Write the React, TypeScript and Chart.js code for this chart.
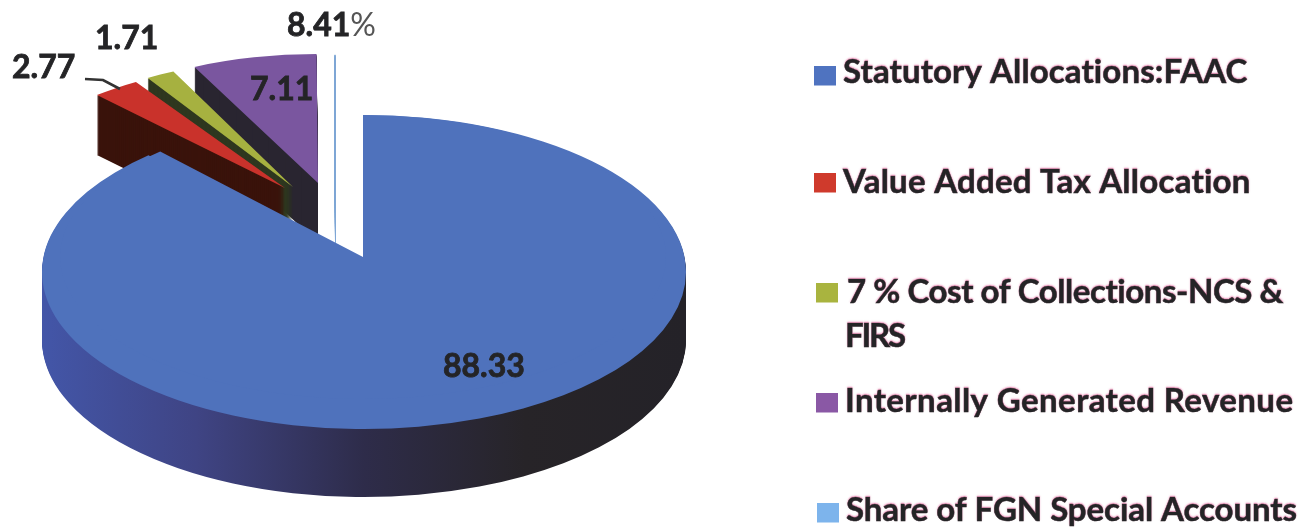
import React, { useEffect, useRef } from "react";
import { Chart, registerables } from "chart.js";

Chart.register(...registerables);

// ---- data ----
const categories = [
  "Statutory Allocations:FAAC",
  "Value Added Tax Allocation",
  "7 % Cost of Collections-NCS & FIRS",
  "Internally Generated Revenue",
  "Share of FGN Special Accounts",
];
const legendLines = [
  ["Statutory Allocations:FAAC"],
  ["Value Added Tax Allocation"],
  ["7 % Cost of Collections-NCS &", "FIRS"],
  ["Internally Generated Revenue"],
  ["Share of FGN Special Accounts"],
];
const shares = [88.33, 2.77, 1.71, 7.11, 0.08];
const valueLabels = ["88.33", "2.77", "1.71", "7.11", "8.41"];

// ---- styles ----
const topColors = ["#4f72bc", "#c9322b", "#a6b140", "#7a569f", "#7ea6d6"];
const wallColors = ["#33386e", "#3a130b", "#2e371f", "#292530", "#7ea6d6"];
const swatchColors = ["#4f73c0", "#cf3a2c", "#a9b43f", "#8a58a5", "#7db4ec"];
const blueWallStops: [number, string][] = [
  [0, "#4356a8"],
  [0.24, "#3f4484"],
  [0.5, "#2e2c4a"],
  [0.75, "#272428"],
  [1, "#242228"],
];

// Each slice is projected on its own ellipse (the look of an exploded 3-D pie).
const sliceFrames = [
  { ax: 364, ay: 272, rx: 322, ry: 157, depth: 68 },
  { ax: 285, ay: 188, rx: 281, ry: 125, depth: 60 },
  { ax: 293, ay: 187, rx: 274, ry: 128.5, depth: 60 },
  { ax: 318, ay: 183, rx: 283, ry: 129, depth: 60 },
  { ax: 335.5, ay: 185, rx: 200, ry: 130, depth: 58 },
];
// The far half of the big slice sits on a flatter ellipse: perspective.
const farFrame = { ax: 363, ay: 257, rx: 303, ry: 142 };
const paintOrder = [3, 4, 2, 1, 0];

const labelLayout = [
  { x: 443, y: 377 },
  { x: 12, y: 78 },
  { x: 95, y: 49 },
  { x: 250, y: 100 },
  { x: 287, y: 36 },
];
const legendLayout = [
  { sx: 814, sy: 66, lines: [{ x: 843, r: 1248, y: 83 }] },
  { sx: 814, sy: 173, lines: [{ x: 843, r: 1251, y: 193 }] },
  { sx: 816, sy: 283, lines: [{ x: 847, r: 1284, y: 303 }, { x: 845, r: 906, y: 347 }] },
  { sx: 816, sy: 393, lines: [{ x: 845, r: 1293, y: 412 }] },
  { sx: 817, sy: 503, lines: [{ x: 846, r: 1297, y: 521 }] },
];
const leader = [
  [85, 79],
  [103, 80],
  [120, 89],
];

const INK = "#242426";
const FONT = "Lato, 'Open Sans', sans-serif";

function paintArc(ctx: any, arc: any, frame: any, fill: any, dy: number, border = 0) {
  const R = arc.outerRadius;
  const saved = arc.options;
  arc.options = { ...saved, backgroundColor: fill, borderColor: fill, borderWidth: border };
  ctx.save();
  ctx.translate(frame.ax, frame.ay + dy);
  ctx.scale(frame.rx / R, frame.ry / R);
  ctx.translate(-arc.x, -arc.y);
  arc.draw(ctx);
  ctx.restore();
  arc.options = saved;
}

const piePainter = {
  id: "piePainter",
  beforeDatasetDraw(chart: any) {
    const ctx = chart.ctx;
    const arcs = chart.getDatasetMeta(0).data;
    for (const i of paintOrder) {
      const arc = arcs[i];
      const frame = sliceFrames[i];
      const border = i === 4 ? 1 : 0;
      let wall: any = wallColors[i];
      if (i === 0) {
        const R = arc.outerRadius;
        wall = ctx.createLinearGradient(arc.x - R, 0, arc.x + R, 0);
        blueWallStops.forEach(([p, c]) => wall.addColorStop(p, c));
      }
      for (let d = frame.depth; d >= 1; d--) paintArc(ctx, arc, frame, wall, d, border);
      paintArc(ctx, arc, frame, topColors[i], 0, border);
      if (i === 0) paintArc(ctx, arc, farFrame, topColors[i], 0);
    }
    return false;
  },
};

function fitText(ctx: any, text: string, x: number, right: number, y: number) {
  ctx.letterSpacing = "0px";
  const w = ctx.measureText(text).width;
  ctx.letterSpacing = `${(right - x - w) / Math.max(text.length - 1, 1)}px`;
  ctx.strokeText(text, x, y);
  ctx.fillText(text, x, y);
  ctx.letterSpacing = "0px";
}

const annotations = {
  id: "annotations",
  afterDraw(chart: any) {
    const ctx = chart.ctx;
    ctx.save();
    ctx.textAlign = "left";
    ctx.textBaseline = "alphabetic";

    // leader line of the 2.77 label
    ctx.strokeStyle = "#333";
    ctx.lineWidth = 2.6;
    ctx.beginPath();
    leader.forEach(([x, y], i) => (i ? ctx.lineTo(x, y) : ctx.moveTo(x, y)));
    ctx.stroke();

    // value labels
    ctx.fillStyle = INK;
    ctx.strokeStyle = INK;
    ctx.lineWidth = 0.8;
    ctx.font = `bold 32px ${FONT}`;
    valueLabels.forEach((t, i) => {
      const p = labelLayout[i];
      ctx.strokeText(t, p.x, p.y);
      ctx.fillText(t, p.x, p.y);
      if (i === 4) {
        const w = ctx.measureText(t).width;
        ctx.font = `32px ${FONT}`;
        ctx.fillStyle = "#555";
        ctx.fillText("%", p.x + w, p.y);
        ctx.font = `bold 32px ${FONT}`;
        ctx.fillStyle = INK;
      }
    });

    // legend
    ctx.font = `bold 33px ${FONT}`;
    ctx.lineWidth = 0.5;
    categories.forEach((_, i) => {
      const l = legendLayout[i];
      ctx.fillStyle = swatchColors[i];
      ctx.fillRect(l.sx, l.sy, 22, 19.5);
      ctx.fillStyle = INK;
      ctx.strokeStyle = INK;
      ctx.shadowColor = "rgba(225,90,150,0.55)";
      ctx.shadowOffsetY = -1;
      ctx.shadowBlur = 1.5;
      legendLines[i].forEach((t, k) => {
        const g = l.lines[k];
        fitText(ctx, t, g.x, g.r, g.y);
      });
      ctx.shadowColor = "transparent";
      ctx.shadowOffsetY = 0;
      ctx.shadowBlur = 0;
    });
    ctx.restore();
  },
};

export default function App() {
  const ref = useRef<HTMLCanvasElement>(null);
  useEffect(() => {
    const chart = new Chart(ref.current as HTMLCanvasElement, {
      type: "pie",
      data: {
        labels: categories,
        datasets: [{ data: shares, backgroundColor: topColors, borderWidth: 0 }],
      },
      options: {
        animation: false,
        responsive: false,
        maintainAspectRatio: false,
        plugins: { legend: { display: false }, tooltip: { enabled: false } },
      },
      plugins: [piePainter, annotations],
    } as any);
    return () => chart.destroy();
  }, []);
  return (
    <div style={{ position: "fixed", left: 0, top: 0, width: 1313, height: 527, background: "#fff" }}>
      <canvas ref={ref} width={1313} height={527} style={{ display: "block", filter: "blur(0.6px)" }} />
    </div>
  );
}
